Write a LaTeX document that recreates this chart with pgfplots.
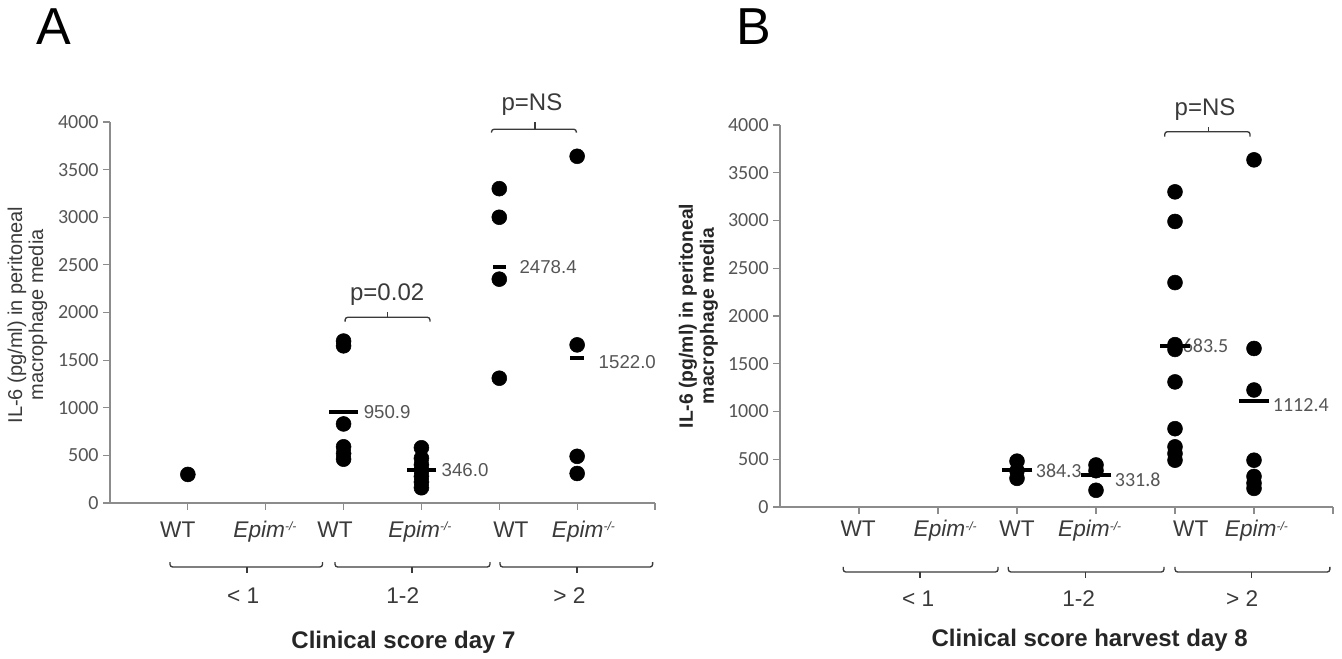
\documentclass[border=0pt]{standalone}
\usepackage{pgfplots}
\pgfplotsset{compat=1.18}
\usepackage{fontspec}
\setmainfont{Liberation Sans}
\newfontfamily\calib{Carlito}
\definecolor{axisgray}{HTML}{8C8C8C}
\definecolor{txtgray}{HTML}{3A3A3A}
\definecolor{numgray}{HTML}{555555}

\newcommand{\epimlab}{\textit{Epim}\raisebox{0.55ex}{\fontsize{9}{9}\selectfont\textit{-/-}}}

\pgfplotsset{panel/.style={
    scale only axis,
    xmin=0, xmax=7, ymin=0, ymax=4000,
    axis x line*=bottom, axis y line*=left,
    axis line style={axisgray, line width=0.9pt},
    xtick={1,...,7}, xticklabels={},
    ytick={0,500,...,4000},
    tick style={axisgray, line width=0.9pt},
    tick align=outside,
    major tick length=5pt,
    /pgf/number format/assume math mode=true,
    /pgf/number format/1000 sep={},
    yticklabel style={font=\calib\fontsize{15}{15}\selectfont, text=numgray},
    clip=false,
  },
  dots/.style={only marks, mark=*, mark size=5.6pt, black},
  meanln/.style={only marks, mark=-, mark size=#1, black, mark options={line width=3pt}},
}
\tikzset{
  catlab/.style={font=\fontsize{17}{17}\selectfont, text=txtgray, anchor=base},
  grplab/.style={font=\fontsize{17}{17}\selectfont, text=txtgray, anchor=base},
  brk/.style={draw=txtgray, line width=1pt, rounded corners=2pt},
}

\begin{document}
\begin{tikzpicture}
\useasboundingbox (0,0) rectangle (1006.5pt,494.25pt);

% ---------- panel A ----------
\begin{axis}[panel, at={(82.5pt,117pt)}, anchor=south west,
    width=408.75pt, height=285.75pt]
  \addplot[dots] coordinates {
    (1,300)
    (3,1700) (3,1650) (3,830) (3,590) (3,520) (3,460)
    (4,580) (4,470) (4,400) (4,340) (4,280) (4,220) (4,160)
    (5,3300) (5,3000) (5,2350) (5,1310)
    (6,3640) (6,1660) (6,490) (6,310)
  };
  \addplot[meanln=11pt] coordinates {(3,950.9) (4,346.0)};
  \addplot[meanln=5pt] coordinates {(5,2478.4) (6,1522.0)};

  \begin{scope}[every node/.style={font=\fontsize{14}{14}\selectfont, text=numgray, anchor=west, inner sep=0pt}]
    \node[xshift=15pt] at (axis cs:3,950.9) {950.9};
    \node[xshift=15pt] at (axis cs:4,346.0) {346.0};
    \node[xshift=15pt] at (axis cs:5,2478.4) {2478.4};
    \node[xshift=16pt, yshift=-3pt] at (axis cs:6,1522.0) {1522.0};
  \end{scope}

  % significance brackets
  \draw[brk] (axis cs:3.02,1904) -- (axis cs:3.02,1950) -- (axis cs:4.11,1950) -- (axis cs:4.11,1904);
  \draw[txtgray, line width=1pt] (axis cs:3.56,1950) -- (axis cs:3.56,2009);
  \node[font=\fontsize{18}{18}\selectfont, text=txtgray] at (axis cs:3.56,2184) {p=0.02};
  \draw[brk] (axis cs:4.90,3889) -- (axis cs:4.90,3924) -- (axis cs:5.99,3924) -- (axis cs:5.99,3889);
  \draw[txtgray, line width=1pt] (axis cs:5.46,3924) -- (axis cs:5.46,4004);
  \node[font=\fontsize{18}{18}\selectfont, text=txtgray] at (axis cs:5.42,4179) {p=NS};

  % category labels
  \node[catlab] at (axis cs:0.87,-357) {WT};
  \node[catlab] at (axis cs:2.89,-357) {WT};
  \node[catlab] at (axis cs:5.15,-357) {WT};
  \node[catlab] at (axis cs:1.99,-357) {\epimlab};
  \node[catlab] at (axis cs:3.98,-357) {\epimlab};
  \node[catlab] at (axis cs:6.08,-357) {\epimlab};

  % group brackets
  \draw[brk] (axis cs:0.77,-620) -- (axis cs:0.77,-672) -- (axis cs:2.73,-672) -- (axis cs:2.73,-620);
  \draw[txtgray, line width=1pt] (axis cs:1.76,-672) -- (axis cs:1.76,-735);
  \draw[brk] (axis cs:2.89,-620) -- (axis cs:2.89,-672) -- (axis cs:4.88,-672) -- (axis cs:4.88,-620);
  \draw[txtgray, line width=1pt] (axis cs:3.88,-672) -- (axis cs:3.88,-735);
  \draw[brk] (axis cs:5.01,-620) -- (axis cs:5.01,-672) -- (axis cs:6.97,-672) -- (axis cs:6.97,-620);
  \draw[txtgray, line width=1pt] (axis cs:6.0,-672) -- (axis cs:6.0,-735);
  \node[grplab] at (axis cs:1.71,-1050) {< 1};
  \node[grplab] at (axis cs:3.76,-1050) {1-2};
  \node[grplab] at (axis cs:5.90,-1050) {> 2};

  \node[font=\bfseries\fontsize{18}{18}\selectfont, text=black!85] at (axis cs:3.77,-1460) {Clinical score day 7};
\end{axis}

% ---------- panel B ----------
\begin{axis}[panel, at={(585pt,114pt)}, anchor=south west,
    width=414.75pt, height=286.5pt]
  \addplot[dots] coordinates {
    (3,480) (3,380) (3,300)
    (4,440) (4,380) (4,175)
    (5,3300) (5,2990) (5,2350) (5,1700) (5,1650) (5,1310) (5,820) (5,630) (5,560) (5,490)
    (6,3635) (6,1660) (6,1225) (6,490) (6,320) (6,250) (6,195)
  };
  \addplot[meanln=11.5pt] coordinates {(3,384.3) (4,331.8) (5,1683.5) (6,1112.4)};

  \begin{scope}[every node/.style={font=\calib\fontsize{15}{15}\selectfont, text=numgray, anchor=west, inner sep=0pt}]
    \node[xshift=14pt] at (axis cs:3,384.3) {384.3};
    \node[xshift=14pt, yshift=-3pt] at (axis cs:4,331.8) {331.8};
    \node[xshift=-2pt] at (axis cs:5,1683.5) {1683.5};
    \node[xshift=14pt, yshift=-3pt] at (axis cs:6,1112.4) {1112.4};
  \end{scope}

  \draw[brk] (axis cs:4.87,3877) -- (axis cs:4.87,3930) -- (axis cs:5.95,3930) -- (axis cs:5.95,3877);
  \draw[txtgray, line width=1pt] (axis cs:5.42,3930) -- (axis cs:5.42,3982);
  \node[font=\fontsize{18}{18}\selectfont, text=txtgray] at (axis cs:5.38,4157) {p=NS};

  \node[catlab] at (axis cs:0.99,-314) {WT};
  \node[catlab] at (axis cs:3.00,-314) {WT};
  \node[catlab] at (axis cs:5.20,-314) {WT};
  \node[catlab] at (axis cs:2.09,-314) {\epimlab};
  \node[catlab] at (axis cs:3.92,-314) {\epimlab};
  \node[catlab] at (axis cs:6.03,-314) {\epimlab};

  \draw[brk] (axis cs:0.80,-628) -- (axis cs:0.80,-681) -- (axis cs:2.76,-681) -- (axis cs:2.76,-628);
  \draw[txtgray, line width=1pt] (axis cs:1.77,-681) -- (axis cs:1.77,-743);
  \draw[brk] (axis cs:2.89,-628) -- (axis cs:2.89,-681) -- (axis cs:4.86,-681) -- (axis cs:4.86,-628);
  \draw[txtgray, line width=1pt] (axis cs:3.87,-681) -- (axis cs:3.87,-743);
  \draw[brk] (axis cs:5.00,-628) -- (axis cs:5.00,-681) -- (axis cs:6.96,-681) -- (axis cs:6.96,-628);
  \draw[txtgray, line width=1pt] (axis cs:5.97,-681) -- (axis cs:5.97,-743);
  \node[grplab] at (axis cs:1.75,-1040) {< 1};
  \node[grplab] at (axis cs:3.78,-1040) {1-2};
  \node[grplab] at (axis cs:5.85,-1040) {> 2};

  \node[font=\bfseries\fontsize{18}{18}\selectfont, text=black!85] at (axis cs:3.92,-1393) {Clinical score harvest day 8};
\end{axis}

% y-axis titles and panel letters
\node[rotate=90, align=center, text=txtgray, font=\fontsize{15}{15.75}\selectfont]
  at (20.6pt,258pt) {IL-6 (pg/ml) in peritoneal\\macrophage media};
\node[rotate=90, align=center, text=black!85, font=\bfseries\fontsize{14.5}{15.75}\selectfont]
  at (523.9pt,257.25pt) {IL-6 (pg/ml) in peritoneal\\macrophage media};
\node[font=\fontsize{39}{39}\selectfont] at (40.5pt,474pt) {A};
\node[font=\fontsize{39}{39}\selectfont] at (565.5pt,474pt) {B};
\end{tikzpicture}
\end{document}
